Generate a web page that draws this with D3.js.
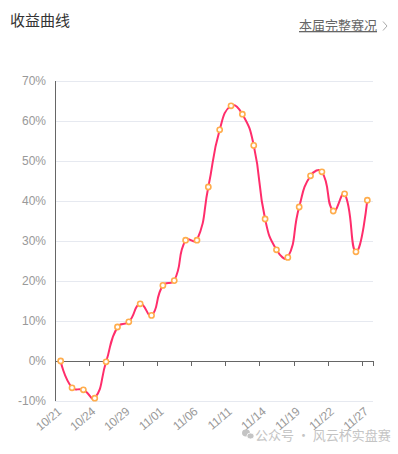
<!DOCTYPE html>
<html>
<head>
<meta charset="utf-8">
<title>收益曲线</title>
<script src="https://cdn.jsdelivr.net/npm/d3@7"></script>
<style>
  body { margin: 0; background: #fff; }
  svg { display: block; font-family: "Noto Sans CJK SC", "Liberation Sans", sans-serif; }
</style>
</head>
<body>
<svg id="chart" width="398" height="454"></svg>
<script>
// trading days shown on the category axis
var dates = ['10/21','10/22','10/23','10/24','10/25','10/28','10/29','10/30','10/31','11/01',
             '11/04','11/05','11/06','11/07','11/08','11/11','11/12','11/13','11/14','11/15',
             '11/18','11/19','11/20','11/21','11/22','11/25','11/26','11/27']
// cumulative return, %
var returns = [0, -6.7, -7.2, -9.3, -0.2, 8.5, 9.8, 14.3, 11.4, 18.9,
               20.1, 30.2, 30.2, 43.5, 57.8, 63.8, 61.7, 53.9, 35.5, 27.8,
               25.9, 38.5, 46.3, 47.3, 37.5, 41.8, 27.3, 40.2]
var yTicks = [-10, 0, 10, 20, 30, 40, 50, 60, 70]

var svg = d3.select('#chart')
var m = {left: 55, right: 373, top: 81, bottom: 401}

var x = d3.scaleBand().domain(dates).range([m.left, m.right]).padding(0)
var y = d3.scaleLinear().domain([-10, 70]).range([m.bottom, m.top])
var cx = function(i) { return x(dates[i]) + x.bandwidth() / 2 }

// header
svg.append('text').attr('x', 10).attr('y', 26)
  .attr('font-size', 15).attr('fill', '#333').text('收益曲线')
svg.append('text').attr('x', 299).attr('y', 30)
  .attr('font-size', 13).attr('fill', '#666')
  .attr('text-decoration', 'underline').text('本届完整赛况')
svg.append('path').attr('d', 'M383,21.5 L387,26 L383,30.5')
  .attr('fill', 'none').attr('stroke', '#aaa').attr('stroke-width', 1)

// grid lines
svg.append('g').selectAll('line').data(yTicks.filter(function(t) { return t !== 0 })).enter()
  .append('line')
  .attr('x1', m.left).attr('x2', m.right)
  .attr('y1', function(d) { return Math.round(y(d)) + 0.5 }).attr('y2', function(d) { return Math.round(y(d)) + 0.5 })
  .attr('stroke', '#e6e9f0').attr('stroke-width', 1)

// y axis
var yAxis = svg.append('g').attr('transform', 'translate(' + m.left + ',0)')
  .call(d3.axisLeft(y).tickValues(yTicks).tickSize(0).tickPadding(9).tickFormat(function(d) { return d + '%' }))
yAxis.select('.domain').attr('stroke', '#666').attr('d', 'M0.5,' + m.top + 'V' + m.bottom)
yAxis.selectAll('text').attr('font-size', 12).attr('fill', '#999')
  .attr('font-family', '"Liberation Sans", Arial, sans-serif')

// x axis on zero, ticks at every third band boundary
var tickIdx = dates.map(function(d, i) { return i }).filter(function(i) { return i % 3 === 0 })
var xAxis = svg.append('g').attr('transform', 'translate(0,' + Math.round(y(0)) + ')')
xAxis.append('line').attr('x1', m.left).attr('x2', m.right + 0.5)
  .attr('y1', 0.5).attr('y2', 0.5).attr('stroke', '#666')
xAxis.selectAll('.tick').data(tickIdx.concat([dates.length])).enter()
  .append('line')
  .attr('x1', function(i) { return Math.round(i < dates.length ? x(dates[i]) : m.right) + 0.5 })
  .attr('x2', function(i) { return Math.round(i < dates.length ? x(dates[i]) : m.right) + 0.5 })
  .attr('y1', 0).attr('y2', 5).attr('stroke', '#666')

// x labels, rotated, below the plot
svg.append('g').selectAll('text').data(tickIdx).enter()
  .append('text')
  .attr('transform', function(i) { return 'translate(' + (cx(i) + 1.5) + ',' + 413 + ') rotate(-40)' })
  .attr('text-anchor', 'end')
  .attr('font-size', 12).attr('letter-spacing', -0.3).attr('fill', '#999')
  .attr('font-family', '"Liberation Sans", Arial, sans-serif')
  .text(function(i) { return dates[i] })

// echarts-like smooth curve (control arms weighted by segment length)
function smoothCurve(context) {
  var pts
  return {
    areaStart: function() {}, areaEnd: function() {},
    lineStart: function() { pts = [] },
    point: function(px, py) { pts.push([+px, +py]) },
    lineEnd: function() {
      var s = 0.5, n = pts.length
      context.moveTo(pts[0][0], pts[0][1])
      var c0 = pts[0]
      for (var k = 1; k < n; k++) {
        var p = pts[k], prev = pts[k - 1], next = pts[k + 1]
        var c1, nc
        if (!next) { c1 = p; nc = p }
        else {
          var vx = next[0] - prev[0], vy = next[1] - prev[1]
          var l0 = Math.hypot(p[0] - prev[0], p[1] - prev[1])
          var l1 = Math.hypot(next[0] - p[0], next[1] - p[1])
          var r = l1 / (l0 + l1)
          nc = [p[0] + vx * s * r, p[1] + vy * s * r]
          c1 = [p[0] - vx * s * (1 - r), p[1] - vy * s * (1 - r)]
        }
        context.bezierCurveTo(c0[0], c0[1], c1[0], c1[1], p[0], p[1])
        c0 = nc
      }
    }
  }
}

var line = d3.line()
  .x(function(d, i) { return cx(i) })
  .y(function(d) { return y(d) })
  .curve(smoothCurve)

svg.append('path').attr('d', line(returns))
  .attr('fill', 'none').attr('stroke', '#ff2d6b').attr('stroke-width', 2)

svg.append('g').selectAll('circle').data(returns).enter()
  .append('circle')
  .attr('cx', function(d, i) { return cx(i) })
  .attr('cy', function(d) { return y(d) })
  .attr('r', 2.6)
  .attr('fill', '#fff').attr('stroke', '#ffad4d').attr('stroke-width', 1.6)

// watermark
var wm = svg.append('g').attr('fill', '#c4c4c4')
wm.append('ellipse').attr('cx', 246).attr('cy', 433).attr('rx', 4).attr('ry', 3.4)
wm.append('ellipse').attr('cx', 250.5).attr('cy', 436).attr('rx', 3.6).attr('ry', 3).attr('stroke', '#fff').attr('stroke-width', 0.8)
wm.append('text').attr('x', 255).attr('y', 440).attr('font-size', 13)
  .text('公众号 · 风云杯实盘赛')
</script>
</body>
</html>
